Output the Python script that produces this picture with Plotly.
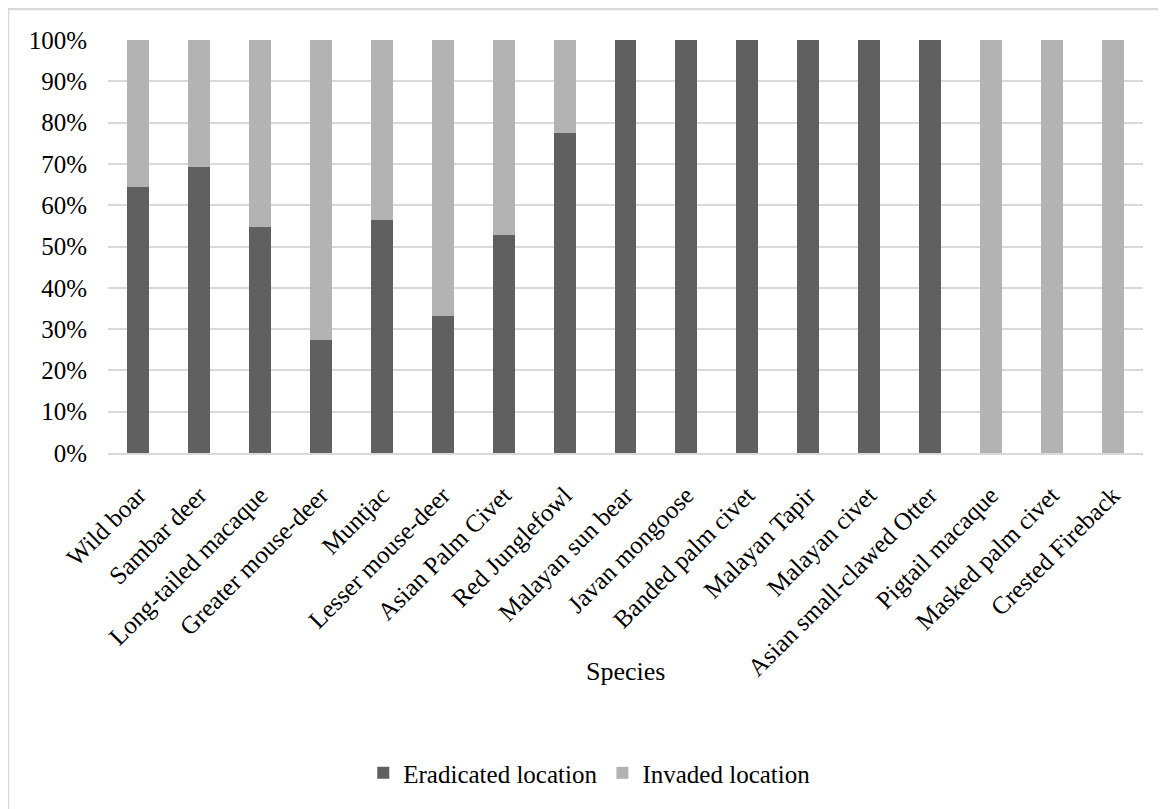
import plotly.graph_objects as go

species = ["Wild boar", "Sambar deer", "Long-tailed macaque", "Greater mouse-deer",
           "Muntjac", "Lesser mouse-deer", "Asian Palm Civet", "Red Junglefowl",
           "Malayan sun bear", "Javan mongoose", "Banded palm civet", "Malayan Tapir",
           "Malayan civet", "Asian small-clawed Otter", "Pigtail macaque",
           "Masked palm civet", "Crested Fireback"]
eradicated = [64.4, 69.3, 54.8, 27.4, 56.3, 33.1, 52.9, 77.6,
              100, 100, 100, 100, 100, 100, 0, 0, 0]
invaded = [35.6, 30.7, 45.2, 72.6, 43.7, 66.9, 47.1, 22.4,
           0, 0, 0, 0, 0, 0, 100, 100, 100]
y_ticks = [0, 10, 20, 30, 40, 50, 60, 70, 80, 90, 100]
y_labels = [f"{v}%" for v in y_ticks]

FONT = "Liberation Serif"
DARK = "#606060"
LIGHT = "#b3b3b3"

fig = go.Figure()
fig.add_trace(go.Bar(x=species, y=eradicated, name="Eradicated location",
                     marker=dict(color=DARK, line=dict(width=0))))
fig.add_trace(go.Bar(x=species, y=invaded, name="Invaded location",
                     marker=dict(color=LIGHT, line=dict(width=0))))

fig.update_layout(
    width=1158, height=801,
    margin=dict(l=100, r=23, t=32, b=356),
    barmode="stack", bargap=0.64,
    paper_bgcolor="white", plot_bgcolor="white",
    font=dict(family=FONT, size=25, color="#000000"),
    showlegend=True,
    legend=dict(orientation="h", x=0.465, xanchor="center", y=-0.775, yanchor="middle",
                font=dict(family=FONT, size=25, color="#000000"),
                itemsizing="constant", traceorder="normal", itemwidth=30),
    xaxis=dict(tickangle=-45, showgrid=False, showline=True, linecolor="#d9d9d9",
               linewidth=1.5, ticks="", ticklabelstandoff=16,
               tickfont=dict(family=FONT, size=25)),
    yaxis=dict(range=[0, 100], tickvals=y_ticks, ticktext=y_labels,
               showgrid=True, gridcolor="#d9d9d9", gridwidth=1.5,
               zeroline=False, showline=False, ticks="", ticklabelstandoff=20,
               tickfont=dict(family=FONT, size=25)),
    annotations=[dict(text="Species", xref="paper", yref="paper", x=0.5, y=-0.53,
                      xanchor="center", yanchor="middle", showarrow=False,
                      font=dict(family=FONT, size=26, color="#000000"))],
    shapes=[
        dict(type="rect", xref="paper", yref="paper", x0=-0.0966, x1=1.04,
             y0=-0.9, y1=1.075, line=dict(color="#d9d9d9", width=2.5),
             fillcolor="rgba(0,0,0,0)", layer="below"),
    ],
)

fig.write_html("out.html")
